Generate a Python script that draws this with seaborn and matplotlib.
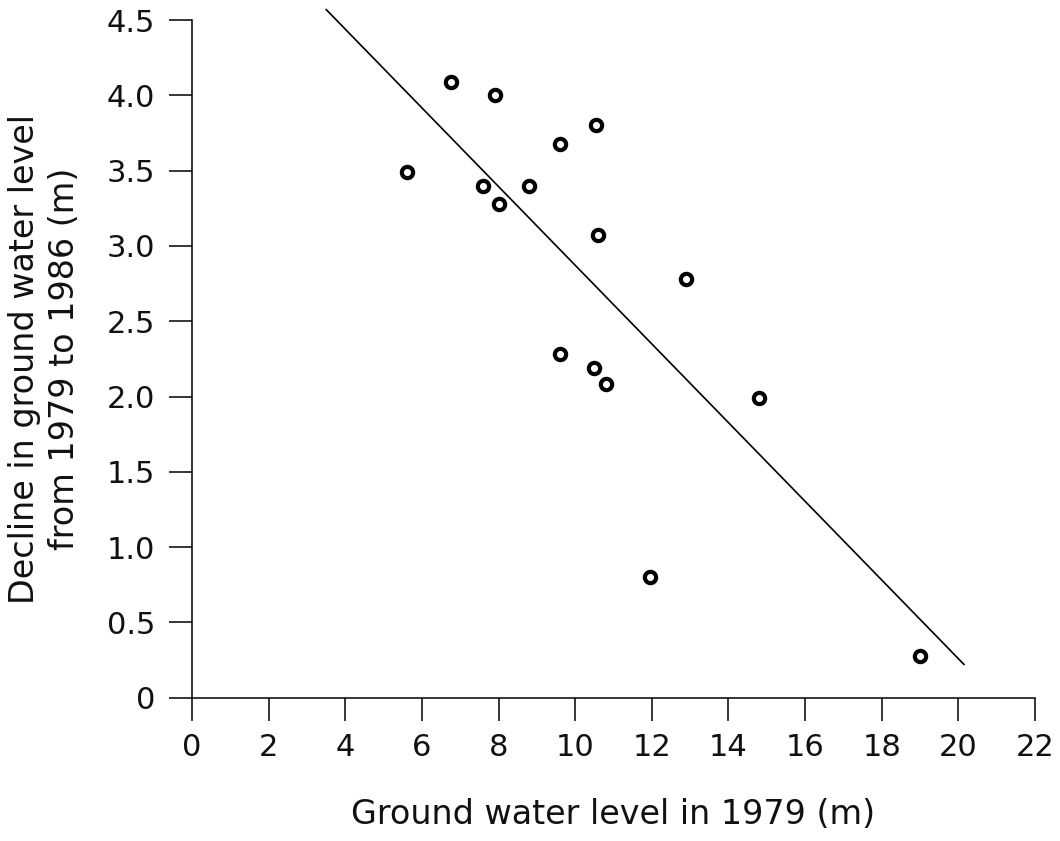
import matplotlib
matplotlib.use("Agg")
import matplotlib.pyplot as plt
import seaborn as sns
import pandas as pd

# Ground water level in 1979 (m) and decline 1979-1986 (m)
level_1979 = [5.6, 6.75, 7.9, 10.55, 9.6, 7.6, 8.8, 8.0, 10.6, 12.9,
              9.6, 10.5, 10.8, 14.8, 11.95, 19.0]
decline = [3.49, 4.09, 4.0, 3.80, 3.68, 3.40, 3.40, 3.28, 3.07, 2.78,
           2.28, 2.19, 2.08, 1.99, 0.80, 0.28]

# end points of the fitted line
fit_x = [3.5, 20.15]
fit_y = [4.57, 0.22]

x_ticks = [0, 2, 4, 6, 8, 10, 12, 14, 16, 18, 20, 22]
x_tick_labels = ["0", "2", "4", "6", "8", "10", "12", "14", "16", "18", "20", "22"]
y_ticks = [0, 0.5, 1.0, 1.5, 2.0, 2.5, 3.0, 3.5, 4.0, 4.5]
y_tick_labels = ["0", "0.5", "1.0", "1.5", "2.0", "2.5", "3.0", "3.5", "4.0", "4.5"]

df = pd.DataFrame({"level": level_1979, "decline": decline})

sns.set_theme(style="ticks")
plt.rcParams["font.family"] = ["DejaVu Sans"]

fig = plt.figure(figsize=(10.6, 8.41), dpi=100)
ax = fig.add_axes([0.1811, 0.1704, 0.7953, 0.8058])

sns.lineplot(x=fit_x, y=fit_y, color="black", linewidth=1.2, ax=ax,
             zorder=2, clip_on=False)
sns.scatterplot(data=df, x="level", y="decline", marker="o", s=66,
                color="white", edgecolor="black", linewidth=3.0, ax=ax,
                zorder=3, clip_on=False)

ax.set_xlim(0, 22)
ax.set_ylim(0, 4.5)
ax.set_xticks(x_ticks)
ax.set_xticklabels(x_tick_labels)
ax.set_yticks(y_ticks)
ax.set_yticklabels(y_tick_labels)
ax.tick_params(axis="both", direction="out", length=16.5, width=1.1,
               color="black", labelsize=22, labelcolor="#111111")
ax.tick_params(axis="x", pad=9)
ax.tick_params(axis="y", pad=10)

for side in ["top", "right"]:
    ax.spines[side].set_visible(False)
for side in ["left", "bottom"]:
    ax.spines[side].set_color("black")
    ax.spines[side].set_linewidth(1.1)

ax.set_xlabel("Ground water level in 1979 (m)", fontsize=24, color="#111111")
ax.set_ylabel("Decline in ground water level\nfrom 1979 to 1986 (m)",
              fontsize=24, color="#111111", linespacing=1.25)
ax.xaxis.set_label_coords(0.5, -0.148)
ax.yaxis.set_label_coords(-0.132, 0.5)

plt.savefig("out.png", dpi=100)
plt.close()
